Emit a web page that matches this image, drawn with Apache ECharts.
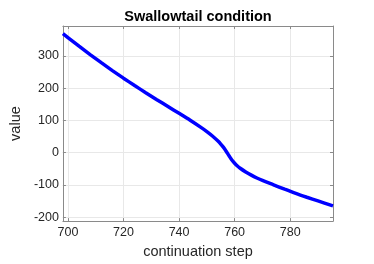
<!DOCTYPE html>
<html>
<head>
<meta charset="utf-8">
<script src="https://cdn.jsdelivr.net/npm/echarts@6/dist/echarts.min.js"></script>
<style>
html,body{margin:0;padding:0;background:#fff;}
#chart{width:374px;height:264px;}
</style>
</head>
<body>
<div id="chart"></div>
<script>
const titleText = 'Swallowtail condition';
const xLabel = 'continuation step';
const yLabel = 'value';
const steps = [698.2, 700, 704, 708, 712, 716, 720, 724, 728, 732, 736, 740, 744, 748, 750, 752, 754, 755, 756, 757, 758, 759, 760, 761, 762, 764, 766, 768, 770, 774, 778, 782, 786, 790, 795.4];
const values = [368.5, 356.5, 329.9, 303.9, 278.7, 254.3, 230.7, 207.9, 185.7, 164.1, 142.9, 121.7, 100.1, 77.3, 65.1, 51.5, 35.7, 26.5, 16, 3.5, -10, -23, -33, -41.5, -48.5, -60, -70, -78.8, -86.5, -100, -113.5, -126.5, -138.5, -150, -165.5];
const xTicks = [700, 720, 740, 760, 780];
const yTicks = [-200, -100, 0, 100, 200, 300];
const xRange = [698.2, 795.4];
const yRange = [-212.5, 392.5];

const chart = echarts.init(document.getElementById('chart'), null, {renderer: 'canvas'});
const font = 'Liberation Sans, Arial, Helvetica, sans-serif';
const axisColor = '#8a8a8a';
const labelColor = '#262626';
const gridColor = '#e8e8e8';

function xAxisCfg(show, pos) {
  return {
    type: 'value', position: pos, min: xRange[0], max: xRange[1],
    axisLine: {show: true, onZero: false, lineStyle: {color: axisColor, width: 1}},
    axisTick: {show: true, inside: true, length: 3, customValues: xTicks, lineStyle: {color: axisColor}},
    axisLabel: {show: show, customValues: xTicks, color: labelColor, fontSize: 12.5, fontFamily: font, margin: 5},
    splitLine: {show: show, lineStyle: {color: gridColor, width: 1}},
    name: show ? xLabel : '', nameLocation: 'middle', nameGap: 19,
    nameTextStyle: {color: labelColor, fontSize: 14.5, fontFamily: font}
  };
}
function yAxisCfg(show, pos) {
  return {
    type: 'value', position: pos, min: yRange[0], max: yRange[1],
    axisLine: {show: true, onZero: false, lineStyle: {color: axisColor, width: 1}},
    axisTick: {show: true, inside: true, length: 3, customValues: yTicks, lineStyle: {color: axisColor}},
    axisLabel: {show: show, customValues: yTicks, color: labelColor, fontSize: 12.5, fontFamily: font, margin: 4},
    splitLine: {show: show, lineStyle: {color: gridColor, width: 1}},
    name: show ? yLabel : '', nameLocation: 'middle', nameGap: 33,
    nameTextStyle: {color: labelColor, fontSize: 14.5, fontFamily: font}
  };
}

chart.setOption({
  animation: false,
  backgroundColor: '#ffffff',
  title: {
    text: titleText, left: 193, top: 4, textAlign: 'center',
    textStyle: {fontSize: 14.5, fontWeight: 'bold', color: '#000', fontFamily: font}
  },
  grid: {left: 54, right: 41, top: 26, bottom: 42, containLabel: false},
  xAxis: [xAxisCfg(true, 'bottom'), xAxisCfg(false, 'top')],
  yAxis: [yAxisCfg(true, 'left'), yAxisCfg(false, 'right')],
  series: [{
    type: 'line',
    data: steps.map((s, i) => [s, values[i]]),
    showSymbol: false,
    smooth: 0.3,
    lineStyle: {color: '#0000ff', width: 3.5},
    clip: true
  }]
});
</script>
</body>
</html>
